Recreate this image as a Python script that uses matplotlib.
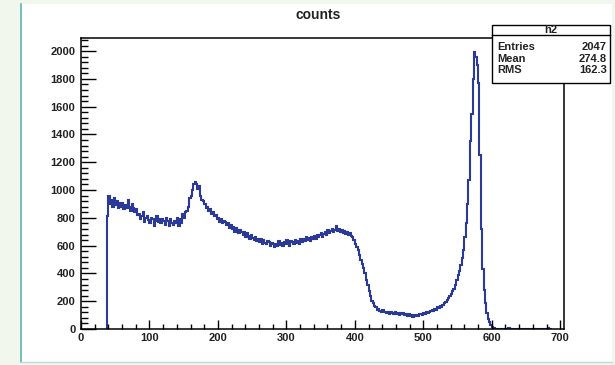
import numpy as np
import matplotlib
matplotlib.use("Agg")
from matplotlib import pyplot as plt
from matplotlib.patches import Rectangle

plt.rcParams['font.family'] = ['Liberation Sans', 'DejaVu Sans']

# histogram h2: 2-unit bins, first filled bin starts at 38
bin_width = 2
first_edge = 38
counts = [
    810, 960, 900, 930, 880, 940, 890, 920, 870, 905,      # 38-56
    880, 910, 860, 895, 870, 930, 880, 850, 900, 870,      # 58-76
    840, 860, 820, 830, 790, 815, 840, 770, 800, 810,      # 78-96
    785, 760, 800, 790, 740, 780, 810, 770, 790, 760,      # 98-116
    795, 780, 750, 800, 775, 740, 790, 765, 745, 780,      # 118-136
    760, 800, 740, 790, 760, 830, 800, 840, 850, 880,      # 138-156
    940, 960, 1000, 1040, 1060, 1045, 1010, 1030, 960, 930,  # 158-176
    920, 900, 870, 880, 850, 860, 830, 840, 810, 820,      # 178-196
    790, 800, 770, 790, 760, 775, 770, 745, 760, 730,      # 198-216
    750, 720, 735, 700, 725, 710, 690, 715, 700, 680,      # 218-236
    695, 665, 690, 670, 650, 675, 655, 640, 660, 630,      # 238-256
    645, 625, 650, 615, 640, 620, 610, 630, 625, 600,      # 258-276
    620, 610, 590, 615, 600, 630, 605, 620, 595, 625,      # 278-296
    610, 640, 615, 600, 630, 625, 610, 640, 620, 635,      # 298-316
    615, 650, 625, 645, 630, 660, 640, 655, 635, 665,      # 318-336
    650, 670, 645, 680, 660, 675, 690, 665, 685, 700,      # 338-356
    675, 710, 690, 705, 720, 695, 715, 740, 705, 720,      # 358-376
    700, 715, 690, 705, 685, 700, 680, 690, 670, 660,      # 378-396
    640, 610, 590, 570, 530, 500, 470, 440, 400, 350,      # 398-416
    320, 270, 235, 205, 185, 165, 155, 140, 145, 130,      # 418-436
    125, 135, 120, 125, 115, 120, 110, 125, 115, 105,      # 438-456
    120, 110, 115, 100, 112, 105, 115, 100, 108, 95,       # 458-476
    105, 90, 100, 85, 98, 92, 100, 95, 105, 110,           # 478-496
    100, 115, 108, 120, 112, 125, 130, 135, 128, 145,      # 498-516
    140, 155, 150, 165, 160, 175, 185, 195, 210, 225,      # 518-536
    240, 255, 270, 290, 320, 350, 390, 420, 460, 510,      # 538-556
    570, 660, 760, 900, 1070, 1350, 1550, 1800, 1990, 1960,  # 558-576
    1900, 1770, 1250, 720, 430, 280, 190, 115, 75, 50,     # 578-596
    30, 15, 8, 3, 2, 1, 1, 0, 0, 0,                        # 598-616
    0, 0, 0, 4, 0, 0, 0, 0, 0, 0,                          # 618-636
    0, 0, 0, 0, 0, 0, 0, 0, 0, 0,                          # 638-656
    0, 0, 3, 0, 0, 0, 0, 0, 0, 0,                          # 658-676
    0, 0, 4, 0, 0,                                         # 678-686
]

title = "counts"
stats_name = "h2"
stats_labels = ["Entries", "Mean", "RMS"]
stats_values = ["2047", "274.8", "162.3"]

line_color = "#2b3a98"

W, H = 615, 365
fig = plt.figure(figsize=(W / 100, H / 100), dpi=100, facecolor="#f2f7ee")

# white canvas of the screenshot
fig.patches.append(Rectangle((21 / W, 1 - 362 / H), (612 - 21) / W, (362 - 4) / H,
                             transform=fig.transFigure, facecolor="white",
                             edgecolor="none", zorder=-2))
fig.add_artist(plt.Line2D([21 / W, 21 / W], [1 - 362 / H, 1 - 4 / H],
                          transform=fig.transFigure, color="#5bb5b0", lw=1.2, zorder=-1))
fig.add_artist(plt.Line2D([21 / W, 612 / W], [1 - 362 / H, 1 - 362 / H],
                          transform=fig.transFigure, color="#b9dfdb", lw=1.0, zorder=-1))

ax = fig.add_axes([81 / W, 1 - 329 / H, (564 - 81) / W, (329 - 38) / H])
ax.set_facecolor("white")

edges = first_edge + bin_width * np.arange(len(counts) + 1)
ax.stairs(counts, edges, color=line_color, lw=1.5, baseline=0)

ax.set_xlim(0, 705.5)
ax.set_ylim(0, 2094)

ax.set_xticks(np.arange(0, 701, 100))
ax.set_xticks(np.arange(0, 701, 20), minor=True)
ax.set_yticks(np.arange(0, 2001, 200))
ax.set_yticks(np.arange(0, 2081, 40), minor=True)

ax.tick_params(axis="both", which="both", direction="in", labelsize=8,
               top=False, right=False, width=1.0, color="black")
ax.tick_params(axis="x", which="major", length=6.5, pad=3)
ax.tick_params(axis="x", which="minor", length=3.3)
ax.tick_params(axis="y", which="major", length=10.5, pad=4)
ax.tick_params(axis="y", which="minor", length=5.3)
for lbl in ax.get_xticklabels() + ax.get_yticklabels():
    lbl.set_fontweight("bold")
    lbl.set_color("#222222")
for sp in ax.spines.values():
    sp.set_linewidth(1.1)

fig.text(0.517, 1 - 15 / H, title, ha="center", va="center", fontsize=10,
         fontweight="bold", color="#222222")

# stats box
bx0, bx1, by0, by1, bsep = 492, 610, 25, 83, 35
fig.patches.append(Rectangle((bx0 / W, 1 - by1 / H), (bx1 - bx0) / W, (by1 - by0) / H,
                             transform=fig.transFigure, facecolor="white",
                             edgecolor="black", lw=1.0, zorder=5))
fig.add_artist(plt.Line2D([bx0 / W, bx1 / W], [1 - bsep / H, 1 - bsep / H],
                          transform=fig.transFigure, color="black", lw=1.0, zorder=6))
fig.text((bx0 + bx1) / 2 / W, 1 - 30 / H, stats_name, ha="center", va="center",
         fontsize=8, fontweight="bold", color="#222222", zorder=7)
for i, (lab, val) in enumerate(zip(stats_labels, stats_values)):
    y = 1 - (47 + 11.5 * i) / H
    fig.text(497 / W, y, lab, ha="left", va="center", fontsize=8,
             fontweight="bold", color="#222222", zorder=7)
    fig.text(607 / W, y, val, ha="right", va="center", fontsize=8,
             fontweight="bold", color="#222222", zorder=7)

fig.savefig("out.png", dpi=100, facecolor=fig.get_facecolor())
